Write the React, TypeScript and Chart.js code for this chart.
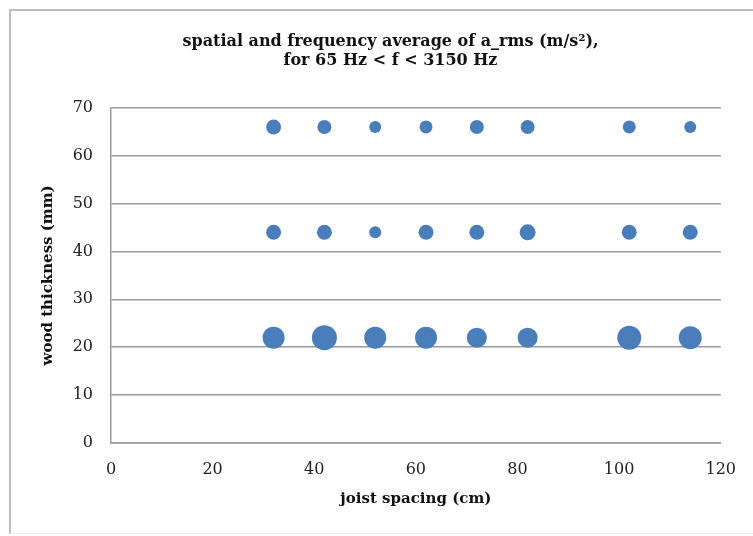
import React, { useEffect, useRef } from "react";
import { Chart, registerables } from "chart.js";

Chart.register(...registerables);

// joist spacing (cm) for every bubble column
const joistSpacing = [32, 42, 52, 62, 72, 82, 102, 114];
// wood thickness rows (mm)
const thicknessRows = [22, 44, 66];
// bubble sizes (spatial & frequency average of a_rms), one per joist spacing
const size22 = [11, 12.5, 11, 11, 10, 10, 12, 11.5];
const size44 = [7.5, 7.5, 6, 7.5, 7.5, 8, 7.5, 7.5];
const size66 = [7.5, 7, 6, 6.5, 7, 7, 6.5, 6];

const titleLines = ["spatial and frequency average of a_rms (m/s²),", "for 65 Hz < f < 3150 Hz"];
const xTitle = "joist spacing (cm)";
const yTitle = "wood thickness (mm)";
const xTicksRange = { min: 0, max: 120, step: 20 };
const yTicksRange = { min: 0, max: 70, step: 10 };

const FONT = "'DejaVu Serif', 'Liberation Serif', serif";
const BLUE = "#4A7EBB";
const GRID = "#9A9A9A";

export default function App() {
  const ref = useRef<HTMLCanvasElement | null>(null);

  useEffect(() => {
    if (!ref.current) return;
    const sizes = [size22, size44, size66];
    const points: { x: number; y: number; r: number }[] = [];
    thicknessRows.forEach((t, i) => {
      joistSpacing.forEach((s, j) => {
        points.push({ x: s, y: t, r: sizes[i][j] });
      });
    });

    const chart = new Chart(ref.current, {
      type: "bubble",
      data: {
        datasets: [
          {
            label: "a_rms",
            data: points,
            backgroundColor: BLUE,
            borderWidth: 0,
          },
        ],
      },
      options: {
        responsive: false,
        animation: false,
        layout: { padding: { left: 59, right: 31, top: 0, bottom: 28 } },
        plugins: {
          legend: { display: false },
          tooltip: { enabled: false },
          title: {
            display: true,
            text: titleLines,
            color: "#111",
            font: { family: FONT, size: 16, weight: "bold", lineHeight: 1.15 },
            padding: { top: 33, bottom: 38 },
          },
        },
        scales: {
          x: {
            type: "linear",
            min: xTicksRange.min,
            max: xTicksRange.max,
            afterFit: (s: any) => {
              s.height = 65;
            },
            ticks: {
              stepSize: xTicksRange.step,
              padding: 17,
              color: "#222",
              font: { family: FONT, size: 16 },
            },
            grid: { display: false, drawTicks: false },
            border: { display: true, color: GRID, width: 1.5 },
            title: {
              display: true,
              text: xTitle,
              color: "#111",
              padding: 0,
              font: { family: FONT, size: 15, weight: "bold", lineHeight: 1.25 },
            },
          },
          y: {
            type: "linear",
            min: yTicksRange.min,
            max: yTicksRange.max,
            afterFit: (s: any) => {
              s.width = 52;
            },
            ticks: {
              stepSize: yTicksRange.step,
              padding: 18,
              color: "#222",
              font: { family: FONT, size: 16 },
            },
            grid: { display: true, drawTicks: false, color: GRID, lineWidth: 1.5 },
            border: { display: true, color: GRID, width: 1.5 },
            title: {
              display: true,
              text: yTitle,
              color: "#111",
              padding: { top: -20, bottom: 0 },
              font: { family: FONT, size: 15, weight: "bold", lineHeight: 1.25 },
            },
          },
        },
      },
    });
    return () => chart.destroy();
  }, []);

  return (
    <div style={{ position: "absolute", left: 0, top: 0, width: 753, height: 536, background: "#fff" }}>
      <canvas ref={ref} width={753} height={536} style={{ position: "absolute", left: 0, top: 0 }} />
      <div
        style={{
          position: "absolute",
          left: 9,
          top: 9,
          width: 760,
          height: 522,
          borderLeft: "2px solid #BDBDBD",
          borderTop: "2px solid #BDBDBD",
          borderBottom: "1px solid #EEEEEE",
          pointerEvents: "none",
        }}
      />
    </div>
  );
}
